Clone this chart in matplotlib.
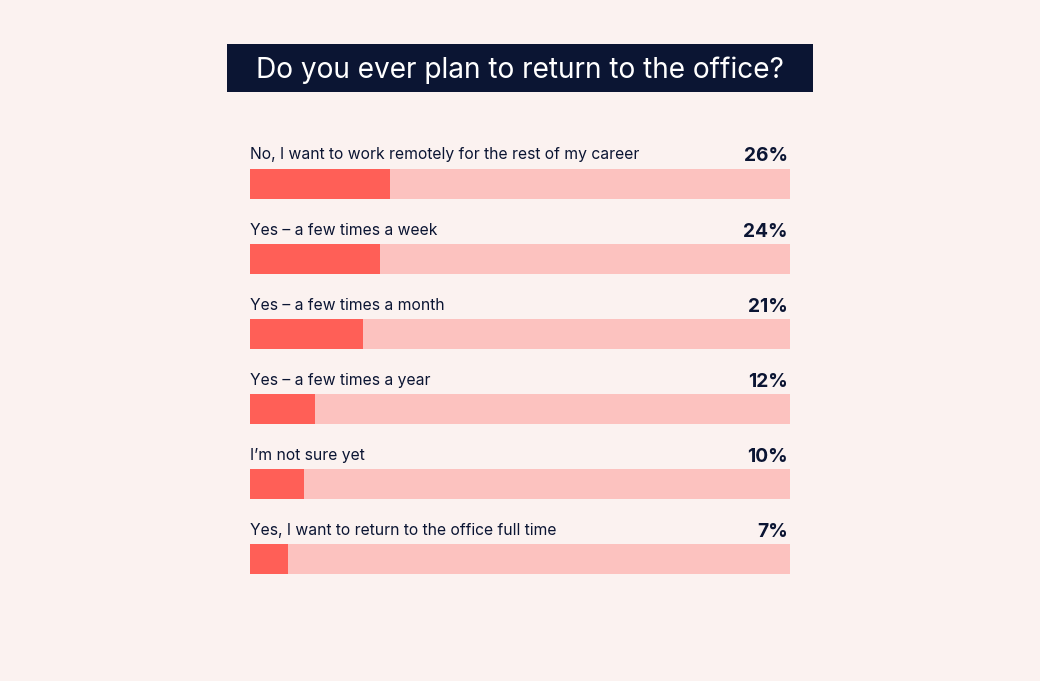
import matplotlib.pyplot as plt
from matplotlib.patches import Rectangle

# data
labels = [
    "No, I want to work remotely for the rest of my career",
    "Yes \u2013 a few times a week",
    "Yes \u2013 a few times a month",
    "Yes \u2013 a few times a year",
    "I\u2019m not sure yet",
    "Yes, I want to return to the office full time",
]
values = [26, 24, 21, 12, 10, 7]
title = "Do you ever plan to return to the office?"

bg = "#fbf2f0"
navy = "#0b1533"
fill = "#ff5f57"
track = "#fcc2bf"

plt.rcParams['font.family'] = ['Inter', 'DejaVu Sans']

fig = plt.figure(figsize=(10.4, 6.81), dpi=100, facecolor=bg)

# title box
fig.patches.append(Rectangle((0.2183, 0.8649), 0.5635, 0.0705,
                             transform=fig.transFigure, facecolor=navy,
                             edgecolor='none', zorder=0))
fig.text(0.5, 0.8975, title, color='white', fontsize=20.2,
         ha='center', va='center')

ax = fig.add_axes([250 / 1040, 0.1234, 540 / 1040, 0.6887])
ax.set_facecolor(bg)
ax.set_xlim(0, 100)
ax.set_ylim(5.5, -0.75)

ypos = list(range(len(values)))
ax.barh(ypos, [100] * len(values), height=0.4, color=track, left=0)
ax.barh(ypos, values, height=0.4, color=fill, left=0)

for y, lab, v in zip(ypos, labels, values):
    ax.text(0, y - 0.39, lab, fontsize=11.3, color=navy,
            ha='left', va='center')
    ax.text(99.6, y - 0.37, f"{v}%", fontsize=13.8, color=navy,
            fontweight='bold', ha='right', va='center')

ax.axis('off')

fig.savefig("out.png", dpi=100, facecolor=bg)
